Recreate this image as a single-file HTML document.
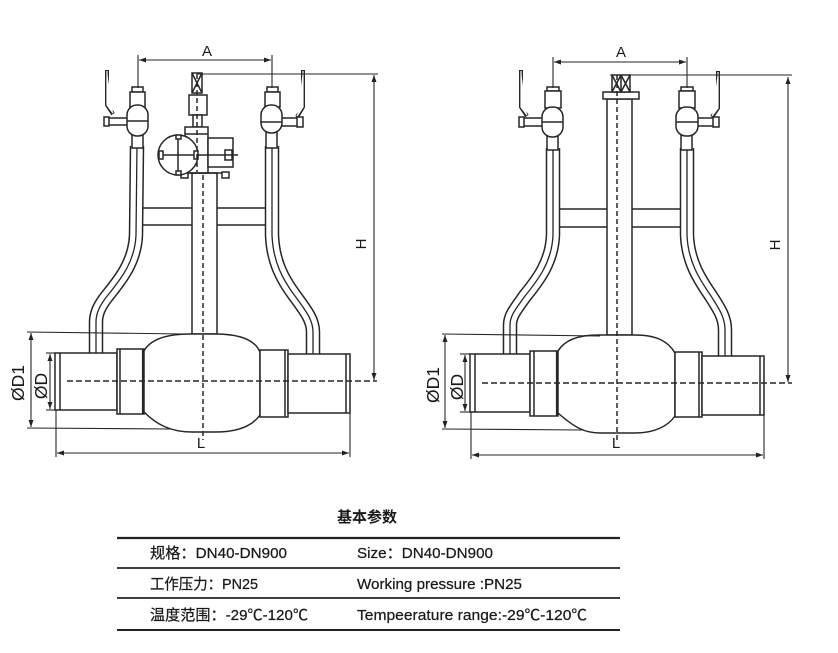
<!DOCTYPE html>
<html><head><meta charset="utf-8"><style>
html,body{margin:0;padding:0;background:#fff;}
svg{display:block;}
text{font-family:"Liberation Sans","Noto Sans CJK SC",sans-serif;fill:#1a1a1a;}
</style></head><body>
<svg width="838" height="653" viewBox="0 0 838 653" xmlns="http://www.w3.org/2000/svg">
<defs>
<marker id="ar" viewBox="0 0 14 10" refX="14" refY="5" markerWidth="7" markerHeight="5" markerUnits="userSpaceOnUse" orient="auto-start-reverse"><path d="M0,0 L14,5 L0,10 z" fill="#222"/></marker>
</defs>
<rect width="838" height="653" fill="#fff"/>
<g stroke="#262626" stroke-width="1.5" fill="none">

<!-- ================= LEFT DRAWING ================= -->
<line x1="137" y1="208" x2="272" y2="208"/>
<line x1="137" y1="225" x2="272" y2="225"/>
<g>
<path d="M137,146 L136,235 C135,262 120,280 108,295 C99,306 96,314 96,322 L96,353" stroke-width="14.5"/>
<path d="M137,146 L136,235 C135,262 120,280 108,295 C99,306 96,314 96,322 L96,353" stroke="#fff" stroke-width="11.5"/>
<path d="M137,146 L136,235 C135,262 120,280 108,295 C99,306 96,314 96,322 L96,358" stroke-width="1.3"/>
<path d="M272,146 L272,235 C273,262 283,280 295,296 C306,311 313,320 313,332 L313,354" stroke-width="14.5"/>
<path d="M272,146 L272,235 C273,262 283,280 295,296 C306,311 313,320 313,332 L313,354" stroke="#fff" stroke-width="11.5"/>
<path d="M272,146 L272,235 C273,262 283,280 295,296 C306,311 313,320 313,332 L313,359" stroke-width="1.3"/>
</g>
<g fill="#fff">
<path d="M107,70 L107,105 L113,114" stroke-width="4"/>
<path d="M107,71 L107,105 L113,113" stroke="#fff" stroke-width="1.2"/>
<rect x="132" y="87" width="11" height="5"/>
<rect x="130" y="92" width="15" height="15"/>
<rect x="132" y="133" width="11" height="15"/>
<rect x="107" y="118" width="21" height="7"/>
<rect x="104" y="117" width="5" height="9"/>
<rect x="127" y="105" width="21" height="31" rx="10"/>
<line x1="127" y1="121" x2="148" y2="121"/>
</g>
<g fill="#fff">
<path d="M303,70 L303,107 L297,117" stroke-width="4"/>
<path d="M303,71 L303,107 L297,116" stroke="#fff" stroke-width="1.2"/>
<rect x="267" y="87" width="11" height="5"/>
<rect x="265" y="92" width="15" height="15"/>
<rect x="266" y="131" width="11" height="17"/>
<rect x="281" y="118" width="18" height="8"/>
<rect x="297" y="117" width="6" height="10"/>
<rect x="261" y="105" width="21" height="28" rx="10"/>
<line x1="261" y1="122" x2="282" y2="122"/>
</g>
<rect x="192" y="173" width="25" height="161" fill="#fff"/>
<g fill="#fff">
<rect x="192" y="73" width="10" height="20"/>
<path d="M192,73 L202,93 M202,73 L192,93"/>
<rect x="189" y="95" width="18" height="20"/>
<rect x="193" y="115" width="9" height="12"/>
<rect x="185" y="127" width="23" height="46"/>
<line x1="185" y1="134" x2="208" y2="134"/>
<rect x="208" y="138" width="25" height="29"/>
<rect x="225" y="150" width="7" height="10"/>
<line x1="180" y1="173" x2="228" y2="173"/>
<rect x="181" y="172" width="7" height="6"/>
<rect x="222" y="172" width="7" height="6"/>
<circle cx="178" cy="155" r="20"/>
<line x1="178" y1="136" x2="178" y2="174"/>
<line x1="158" y1="155" x2="238" y2="155"/>
<rect x="176" y="135" width="5" height="4"/>
<rect x="176" y="171" width="5" height="4"/>
<rect x="159" y="151" width="4" height="8"/>
<rect x="194" y="151" width="4" height="8"/>
</g>
<line x1="197" y1="74" x2="197" y2="172" stroke-dasharray="5 3"/>
<g fill="#fff">
<rect x="55" y="353" width="62" height="57"/>
<line x1="60" y1="353" x2="60" y2="410"/>
<rect x="117" y="349" width="27" height="65"/>
<line x1="120" y1="349" x2="120" y2="414"/>
<path d="M144,351 C150,340 165,334 190,334 L215,334 C240,334 255,340 260,352 L260,415 C253,425 240,432 215,432 L192,432 C170,432 156,424 144,412 Z"/>
<line x1="143" y1="349" x2="143" y2="414" stroke-width="2.2"/>
<line x1="261" y1="350" x2="261" y2="417" stroke-width="2.2"/>
<rect x="260" y="350" width="28" height="67"/>
<line x1="285" y1="350" x2="285" y2="417"/>
<rect x="288" y="354" width="62" height="59"/>
<line x1="346" y1="354" x2="346" y2="413"/>
</g>
<line x1="67" y1="381" x2="377" y2="381" stroke-dasharray="6 3"/>
<line x1="203" y1="175" x2="203" y2="440" stroke-dasharray="5 3"/>
<line x1="138" y1="55" x2="138" y2="88" stroke-width="1.1"/>
<line x1="272" y1="55" x2="272" y2="88" stroke-width="1.1"/>
<line x1="139" y1="60" x2="271" y2="60" stroke-width="1.1" marker-start="url(#ar)" marker-end="url(#ar)"/>
<line x1="197" y1="74" x2="378" y2="74" stroke-width="1.1"/>
<line x1="374" y1="75" x2="374" y2="380" stroke-width="1.1" marker-start="url(#ar)" marker-end="url(#ar)"/>
<line x1="27" y1="332" x2="186" y2="334" stroke-width="1.1"/>
<line x1="27" y1="428" x2="172" y2="429" stroke-width="1.1"/>
<line x1="31" y1="333" x2="31" y2="427" stroke-width="1.1" marker-start="url(#ar)" marker-end="url(#ar)"/>
<line x1="46" y1="353" x2="55" y2="353" stroke-width="1.1"/>
<line x1="46" y1="410" x2="55" y2="410" stroke-width="1.1"/>
<line x1="50" y1="354" x2="50" y2="409" stroke-width="1.1" marker-start="url(#ar)" marker-end="url(#ar)"/>
<line x1="56" y1="410" x2="56" y2="457" stroke-width="1.1"/>
<line x1="350" y1="413" x2="350" y2="457" stroke-width="1.1"/>
<line x1="57" y1="453" x2="349" y2="453" stroke-width="1.1" marker-start="url(#ar)" marker-end="url(#ar)"/>

<!-- ================= RIGHT DRAWING ================= -->
<line x1="553" y1="209" x2="687" y2="209"/>
<line x1="553" y1="227" x2="687" y2="227"/>
<g>
<path d="M553,148 L553,235 C552,262 538,280 525,296 C515,310 510,316 510,325 L510,354" stroke-width="14.5"/>
<path d="M553,148 L553,235 C552,262 538,280 525,296 C515,310 510,316 510,325 L510,354" stroke="#fff" stroke-width="11.5"/>
<path d="M553,148 L553,235 C552,262 538,280 525,296 C515,310 510,316 510,325 L510,359" stroke-width="1.3"/>
<path d="M687,148 L687,235 C688,262 700,280 711,296 C720,310 725,318 725,330 L725,356" stroke-width="14.5"/>
<path d="M687,148 L687,235 C688,262 700,280 711,296 C720,310 725,318 725,330 L725,356" stroke="#fff" stroke-width="11.5"/>
<path d="M687,148 L687,235 C688,262 700,280 711,296 C720,310 725,318 725,330 L725,361" stroke-width="1.3"/>
</g>
<g fill="#fff">
<path d="M521,70 L521,107 L527,116" stroke-width="4"/>
<path d="M521,71 L521,107 L527,115" stroke="#fff" stroke-width="1.2"/>
<rect x="547" y="87" width="12" height="4"/>
<rect x="545" y="91" width="16" height="17"/>
<rect x="547" y="135" width="11" height="15"/>
<rect x="522" y="118" width="21" height="8"/>
<rect x="519" y="117" width="5" height="10"/>
<rect x="542" y="107" width="21" height="30" rx="10"/>
<line x1="542" y1="122" x2="563" y2="122"/>
</g>
<g fill="#fff">
<path d="M718,71 L718,108 L712,117" stroke-width="4"/>
<path d="M718,72 L718,108 L712,116" stroke="#fff" stroke-width="1.2"/>
<rect x="681" y="87" width="12" height="4"/>
<rect x="679" y="91" width="16" height="17"/>
<rect x="681" y="134" width="11" height="16"/>
<rect x="697" y="118" width="18" height="8"/>
<rect x="713" y="117" width="6" height="10"/>
<rect x="676" y="107" width="22" height="29" rx="10"/>
<line x1="676" y1="122" x2="698" y2="122"/>
</g>
<g fill="#fff">
<rect x="607" y="99" width="25" height="236"/>
<rect x="603" y="92" width="36" height="7"/>
<rect x="612" y="75" width="18" height="17"/>
<line x1="621" y1="75" x2="621" y2="92"/>
<path d="M612,75 L621,92 M621,75 L612,92 M621,75 L630,92 M630,75 L621,92"/>
</g>
<g fill="#fff">
<rect x="470" y="354" width="60" height="58"/>
<line x1="475" y1="354" x2="475" y2="412"/>
<rect x="530" y="351" width="28" height="65"/>
<line x1="534" y1="351" x2="534" y2="416"/>
<path d="M558,351 C564,341 576,335 598,335 L635,335 C656,335 668,341 675,353 L675,416 C668,426 655,433 635,433 L600,433 C585,433 575,428 558,413 Z"/>
<line x1="557" y1="351" x2="557" y2="416" stroke-width="2.2"/>
<line x1="676" y1="352" x2="676" y2="417" stroke-width="2.2"/>
<rect x="675" y="352" width="27" height="65"/>
<line x1="699" y1="352" x2="699" y2="417"/>
<rect x="702" y="356" width="62" height="59"/>
<line x1="760" y1="356" x2="760" y2="415"/>
</g>
<line x1="482" y1="383" x2="792" y2="383" stroke-dasharray="6 3"/>
<line x1="617" y1="75" x2="617" y2="440" stroke-dasharray="5 3"/>
<line x1="553" y1="57" x2="553" y2="88" stroke-width="1.1"/>
<line x1="687" y1="57" x2="687" y2="88" stroke-width="1.1"/>
<line x1="554" y1="62" x2="686" y2="62" stroke-width="1.1" marker-start="url(#ar)" marker-end="url(#ar)"/>
<line x1="610" y1="75" x2="792" y2="75" stroke-width="1.1"/>
<line x1="788" y1="77" x2="788" y2="382" stroke-width="1.1" marker-start="url(#ar)" marker-end="url(#ar)"/>
<line x1="442" y1="334" x2="600" y2="336" stroke-width="1.1"/>
<line x1="442" y1="429" x2="583" y2="430" stroke-width="1.1"/>
<line x1="445" y1="335" x2="445" y2="428" stroke-width="1.1" marker-start="url(#ar)" marker-end="url(#ar)"/>
<line x1="460" y1="354" x2="470" y2="354" stroke-width="1.1"/>
<line x1="460" y1="412" x2="470" y2="412" stroke-width="1.1"/>
<line x1="465" y1="355" x2="465" y2="411" stroke-width="1.1" marker-start="url(#ar)" marker-end="url(#ar)"/>
<line x1="471" y1="412" x2="471" y2="459" stroke-width="1.1"/>
<line x1="764" y1="415" x2="764" y2="459" stroke-width="1.1"/>
<line x1="472" y1="455" x2="763" y2="455" stroke-width="1.1" marker-start="url(#ar)" marker-end="url(#ar)"/>

<line x1="117" y1="538" x2="620" y2="538" stroke="#222" stroke-width="2.2"/>
<line x1="117" y1="568" x2="620" y2="568" stroke="#222" stroke-width="1.8"/>
<line x1="117" y1="598" x2="620" y2="598" stroke="#222" stroke-width="1.8"/>
<line x1="117" y1="630" x2="620" y2="630" stroke="#222" stroke-width="2"/>
</g>

<g font-size="15">
<text x="207" y="56" text-anchor="middle">A</text>
<text x="621" y="57" text-anchor="middle">A</text>
<text x="201" y="448" text-anchor="middle">L</text>
<text x="616" y="448" text-anchor="middle">L</text>
<text transform="translate(366,244) rotate(-90)" text-anchor="middle">H</text>
<text transform="translate(780,245) rotate(-90)" text-anchor="middle">H</text>
<text transform="translate(24,383) rotate(-90)" text-anchor="middle" font-size="17.5">ØD1</text>
<text transform="translate(47,386) rotate(-90)" text-anchor="middle" font-size="17.5">ØD</text>
<text transform="translate(439,385) rotate(-90)" text-anchor="middle" font-size="17.5">ØD1</text>
<text transform="translate(463,387) rotate(-90)" text-anchor="middle" font-size="17.5">ØD</text>
</g>

<text x="367" y="522" text-anchor="middle" font-size="15" font-weight="bold" style="font-family:'Noto Sans CJK SC',sans-serif">基本参数</text>
<g font-size="15" stroke="#1a1a1a" stroke-width="0.25">
<text x="150" y="558" textLength="137" lengthAdjust="spacingAndGlyphs">规格：DN40-DN900</text>
<text x="357" y="558" textLength="136" lengthAdjust="spacingAndGlyphs">Size：DN40-DN900</text>
<text x="150" y="589" textLength="108" lengthAdjust="spacingAndGlyphs">工作压力：PN25</text>
<text x="357" y="589" textLength="165" lengthAdjust="spacingAndGlyphs">Working pressure :PN25</text>
<text x="150" y="620" textLength="158" lengthAdjust="spacingAndGlyphs">温度范围：-29℃-120℃</text>
<text x="357" y="620" textLength="230" lengthAdjust="spacingAndGlyphs">Tempeerature range:-29℃-120℃</text>
</g>
</svg>
</body></html>
